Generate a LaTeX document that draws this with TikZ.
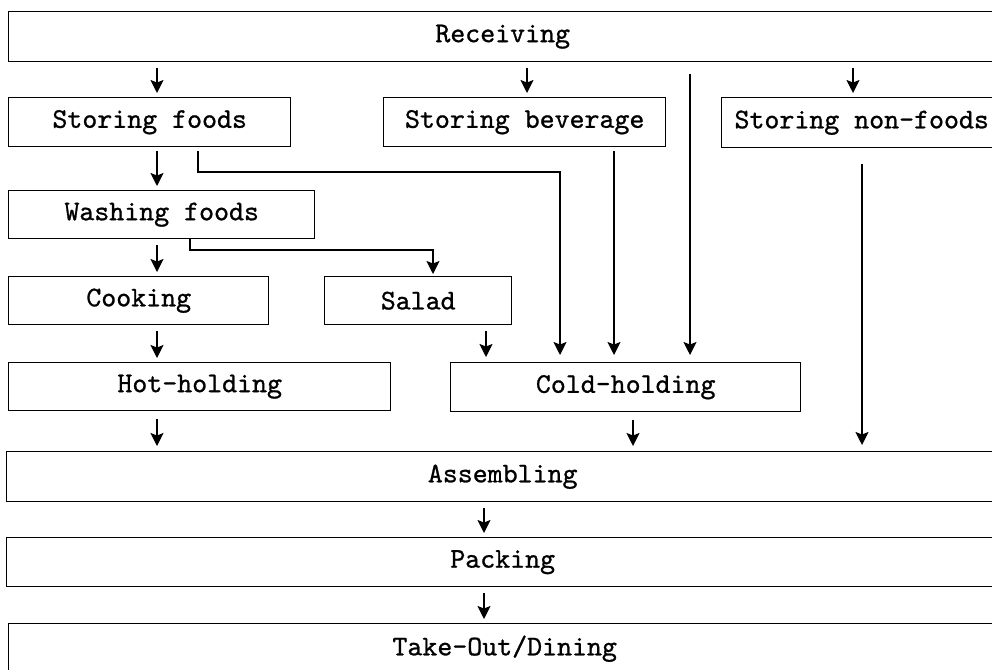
\documentclass[tikz,border=0pt]{standalone}
\usepackage{fontspec}
\usetikzlibrary{arrows.meta}
\newfontfamily\boxfont{lmmono10-regular.otf}[FakeBold=0.9]
\begin{document}
\begin{tikzpicture}[x=1pt,y=-1pt,
  box/.style={draw, line width=1.4pt, anchor=north west, inner sep=0pt,
    font=\boxfont\fontsize{28.5}{33}\selectfont},
  arr/.style={line width=1.4pt, -{Stealth[length=13pt,width=13pt,inset=2.5pt]}}]
\useasboundingbox (0,0) rectangle (992,669);
\clip (0,0) rectangle (992,669);

% process boxes
\node[box, minimum width=988, minimum height=50] (rec) at (8,11) {Receiving};
\node[box, minimum width=282, minimum height=49] (sf)  at (8,97) {Storing foods};
\node[box, minimum width=282, minimum height=49] (sb)  at (383,97) {Storing beverage};
\node[box, minimum width=280, minimum height=50] (snf) at (721,97) {Storing non-foods};
\node[box, minimum width=306, minimum height=48] (wf)  at (8,190) {Washing foods};
\node[box, minimum width=260, minimum height=48] (ck)  at (8,276) {Cooking};
\node[box, minimum width=187, minimum height=48] (sal) at (324,276) {Salad};
\node[box, minimum width=382, minimum height=48] (hh)  at (8,362) {Hot-holding};
\node[box, minimum width=350, minimum height=49] (ch)  at (450,362) {Cold-holding};
\node[box, minimum width=992, minimum height=50] (asm) at (6,451) {Assembling};
\node[box, minimum width=992, minimum height=49] (pk)  at (6,537) {Packing};
\node[box, minimum width=992, minimum height=50] (to)  at (8,623) {Take-Out/Dining};

% connectors
\draw[arr, shorten <=6pt, shorten >=4pt] ([xshift=149pt]rec.south west) -- ([xshift=149pt]sf.north west);
\draw[arr, shorten <=6pt, shorten >=4pt] ([xshift=519pt]rec.south west) -- ([xshift=144pt]sb.north west);
\draw[arr, shorten <=6pt, shorten >=4pt] ([xshift=845pt]rec.south west) -- ([xshift=132pt]snf.north west);
\draw[arr, shorten <=12pt, shorten >=7pt] ([xshift=682pt]rec.south west) -- ([xshift=240pt]ch.north west);

\draw[arr, shorten <=4pt, shorten >=4pt] ([xshift=149pt]sf.south west) -- ([xshift=149pt]wf.north west);
\draw[arr, shorten >=7pt] ([xshift=190pt,yshift=-4pt]sf.south west) |- (560,172) -- ([xshift=110pt]ch.north west);
\draw[arr, shorten <=4pt, shorten >=7pt] ([xshift=231pt]sb.south west) -- ([xshift=164pt]ch.north west);
\draw[arr, shorten <=16pt, shorten >=6pt] ([xshift=141pt]snf.south west) -- ([xshift=856pt]asm.north west);

\draw[arr, shorten <=6pt, shorten >=4pt] ([xshift=149pt]wf.south west) -- ([xshift=149pt]ck.north west);
\draw[arr, shorten >=2pt] ([xshift=182pt]wf.south west) |- (433,250) -- ([xshift=109pt]sal.north west);

\draw[arr, shorten <=6pt, shorten >=4pt] ([xshift=149pt]ck.south west) -- ([xshift=149pt]hh.north west);
\draw[arr, shorten <=6pt, shorten >=5pt] ([xshift=162pt]sal.south west) -- ([xshift=36pt]ch.north west);

\draw[arr, shorten <=8pt, shorten >=5pt] ([xshift=149pt]hh.south west) -- ([xshift=151pt]asm.north west);
\draw[arr, shorten <=8pt, shorten >=5pt] ([xshift=183pt]ch.south west) -- ([xshift=627pt]asm.north west);

\draw[arr, shorten <=6pt, shorten >=4pt] ([xshift=478pt]asm.south west) -- ([xshift=478pt]pk.north west);
\draw[arr, shorten <=6pt, shorten >=4pt] ([xshift=478pt]pk.south west) -- ([xshift=476pt]to.north west);
\end{tikzpicture}
\end{document}
